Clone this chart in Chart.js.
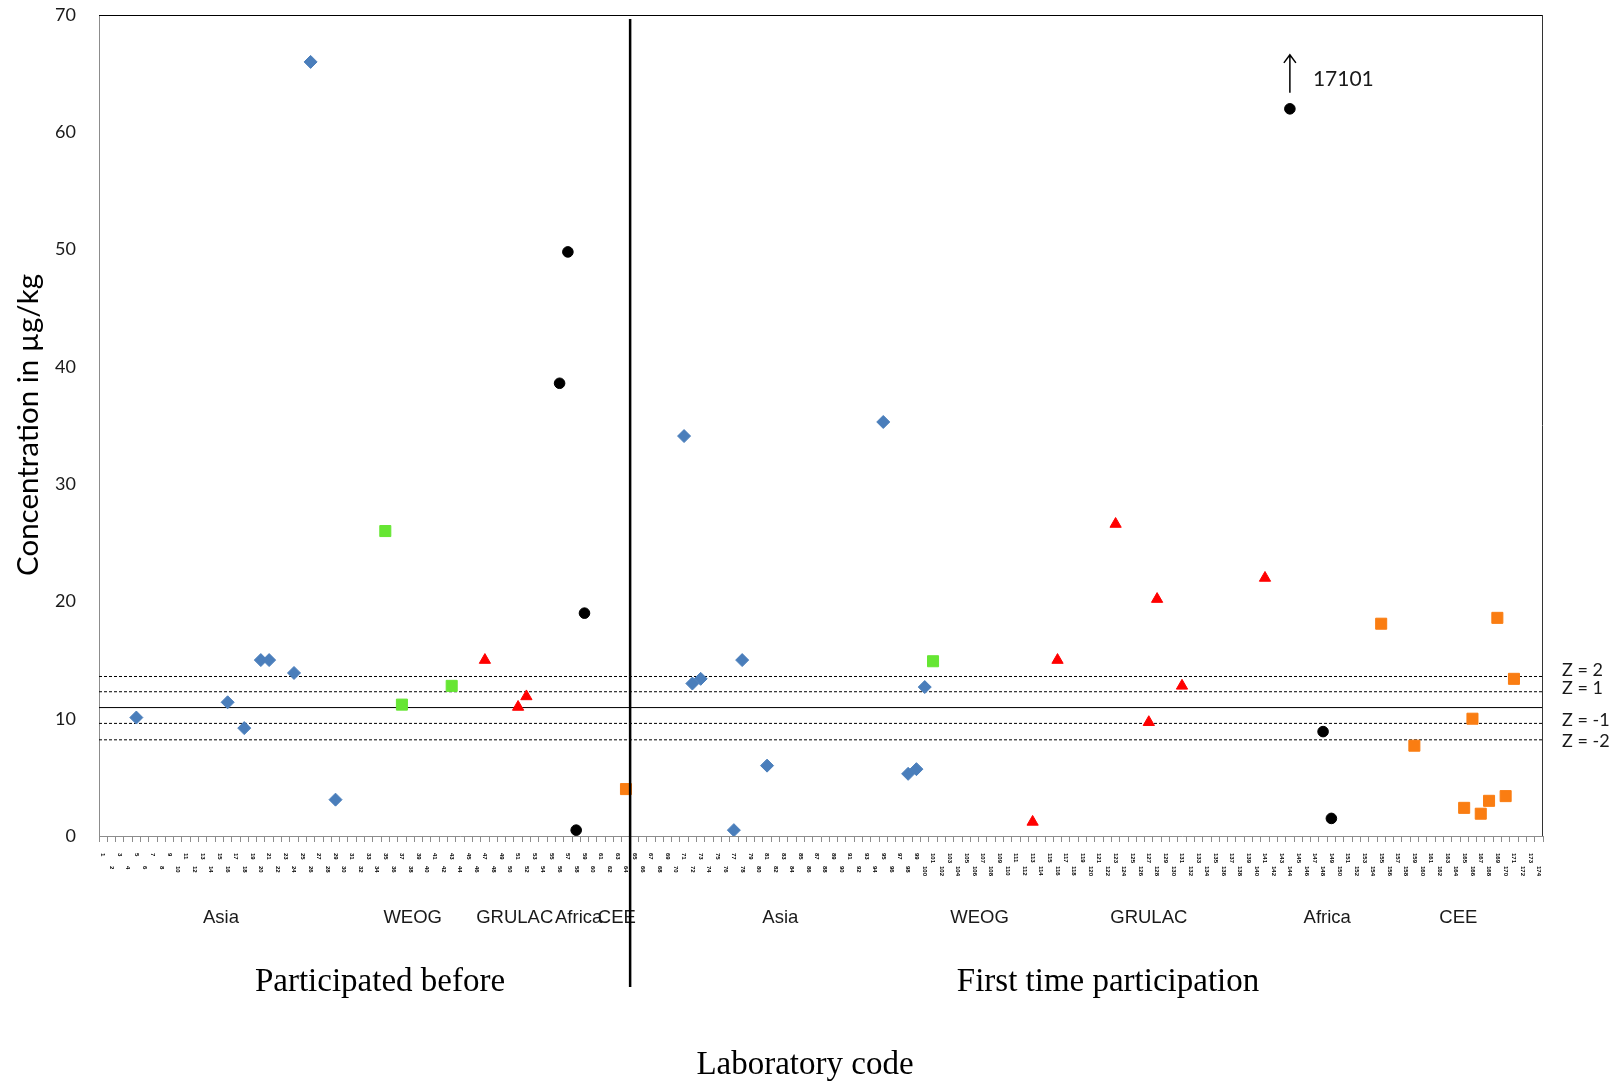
<!DOCTYPE html>
<html><head><meta charset="utf-8">
<script src="https://cdn.jsdelivr.net/npm/chart.js@4/dist/chart.umd.min.js"></script>
<style>html,body{margin:0;padding:0;background:#fff}canvas{display:block}</style>
</head><body>
<div style="width:1624px;height:1084px;position:relative"><canvas id="c" width="1624" height="1084"></canvas></div>
<script>
// ---------- DATA ----------
const categoryCount = 174;
const sectionBoundary = 64; // first 64 labs: participated before
const labCodes = ('1 2 3 4 5 6 7 8 9 10 11 12 13 14 15 16 17 18 19 20 21 22 23 24 25 26 27 28 29 30 31 32 33 34 35 36 37 38 39 40 41 42 43 44 45 46 47 48 49 50 51 52 53 54 55 56 57 58 59 60 61 62 63 64 65 66 67 68 69 70 71 72 73 74 75 76 77 78 79 80 81 82 83 84 85 86 87 88 89 90 91 92 93 94 95 96 97 98 99 100 101 102 103 104 105 106 107 108 109 110 111 112 113 114 115 116 117 118 119 120 121 122 123 124 125 126 127 128 129 130 131 132 133 134 135 136 137 138 139 140 141 142 143 144 145 146 147 148 149 150 151 152 153 154 155 156 157 158 159 160 161 162 163 164 165 166 167 168 169 170 171 172 173 174').split(' ');

const asiaIdx   = [4, 15, 17, 19, 20, 23, 25, 28, 70, 71, 72, 76, 77, 80, 94, 97, 98, 99];
const asiaVal   = [10.1, 11.4, 9.2, 15.0, 15.0, 13.9, 66.0, 3.1, 34.1, 13.0, 13.4, 0.5, 15.0, 6.0, 35.3, 5.3, 5.7, 12.7];
const weogIdx   = [34, 36, 42, 100];
const weogVal   = [26.0, 11.2, 12.8, 14.9];
const grulacIdx = [46, 50, 51, 112, 115, 122, 126, 127, 130, 140];
const grulacVal = [15.0, 11.0, 11.9, 1.2, 15.0, 26.6, 9.7, 20.2, 12.8, 22.0];
const africaIdx = [55, 56, 57, 58, 143, 147, 148];
const africaVal = [38.6, 49.8, 0.5, 19.0, 62.0, 8.9, 1.5]; // 143 is plotted off-scale (true value 17101)
const ceeIdx    = [63, 154, 158, 164, 165, 166, 167, 168, 169, 170];
const ceeVal    = [4.0, 18.1, 7.7, 2.4, 10.0, 1.9, 3.0, 18.6, 3.4, 13.4];

const outlierIdx = 143;
const outlierLabel = '17101';

const assignedValue = 10.95;
const zValues = [13.6, 12.3, 9.6, 8.2];
const zLabels = ['Z = 2', 'Z = 1', 'Z = -1', 'Z = -2'];

const regionNames   = ['Asia', 'WEOG', 'GRULAC', 'Africa', 'CEE', 'Asia', 'WEOG', 'GRULAC', 'Africa', 'CEE'];
const regionCenters = [14.7, 37.8, 50.1, 57.8, 62.4, 82.1, 106.1, 126.5, 148.0, 163.8];

const sectionTitles = ['Participated before', 'First time participation'];
const xTitle = 'Laboratory code';
const yTitle = 'Concentration in µg/kg';
const yMin = 0, yMax = 70, yStep = 10;

// ---------- BUILD ----------
const pts = (idx, val) => idx.map((i, k) => ({x: i + 0.5, y: val[k]}));
const hline = v => [{x: 0, y: v}, {x: categoryCount, y: v}];

function markerSet(label, data, shape, color, r) {
  return {label, data, showLine: false, pointStyle: shape, pointRadius: r, pointHoverRadius: r,
    backgroundColor: color, borderColor: color, borderWidth: 1};
}
function lineSet(label, v, dash) {
  return {label, data: hline(v), showLine: true, pointRadius: 0, borderColor: '#000', borderWidth: 1,
    borderDash: dash, fill: false};
}

const datasets = [
  markerSet('Asia', pts(asiaIdx, asiaVal), 'rectRot', '#4A7EBB', 6.5),
  markerSet('WEOG', pts(weogIdx, weogVal), 'rect', '#66E633', 7.8),
  markerSet('GRULAC', pts(grulacIdx, grulacVal), 'triangle', '#FF0000', 6.5),
  markerSet('Africa', pts(africaIdx, africaVal), 'circle', '#000000', 5.3),
  markerSet('CEE', pts(ceeIdx, ceeVal), 'rect', '#FA7D12', 7.8),
  lineSet('Assigned', assignedValue, []),
  ...zValues.map((v, i) => lineSet(zLabels[i], v, [3, 2]))
];

const zOffsets = [-6, -4, -3, 1];

const decor = {
  id: 'decor',
  afterDraw(chart) {
    const ctx = chart.ctx, xs = chart.scales.x, ys = chart.scales.y, a = chart.chartArea;
    ctx.save();
    // top and right frame
    ctx.strokeStyle = '#000'; ctx.lineWidth = 1;
    ctx.beginPath(); ctx.moveTo(a.left, a.top + 0.5); ctx.lineTo(a.right, a.top + 0.5); ctx.stroke();
    ctx.strokeStyle = '#333';
    ctx.beginPath(); ctx.moveTo(a.right - 0.5, a.top); ctx.lineTo(a.right - 0.5, a.bottom); ctx.stroke();

    // lab code tick labels (tiny, rotated, staggered)
    ctx.fillStyle = '#000';
    ctx.font = 'bold 6px "Liberation Sans"';
    ctx.textAlign = 'left'; ctx.textBaseline = 'middle';
    labCodes.forEach((code, i) => {
      const x = xs.getPixelForValue(i + 0.5);
      ctx.save();
      ctx.translate(x, a.bottom + (i % 2 ? 30 : 17));
      ctx.rotate(Math.PI / 2);
      ctx.fillText(code, 0, 0);
      ctx.restore();
    });

    // region labels
    ctx.fillStyle = '#1a1a1a';
    ctx.font = '18.5px "Liberation Sans"';
    ctx.textAlign = 'center'; ctx.textBaseline = 'middle';
    regionNames.forEach((n, i) => ctx.fillText(n, xs.getPixelForValue(regionCenters[i]), 918));

    // divider line
    const dx = xs.getPixelForValue(sectionBoundary);
    ctx.strokeStyle = '#000'; ctx.lineWidth = 2.5;
    ctx.beginPath(); ctx.moveTo(dx, a.top + 4); ctx.lineTo(dx, 987); ctx.stroke();

    // section titles & x title
    ctx.fillStyle = '#000';
    ctx.font = '33px "Liberation Serif"';
    ctx.fillText(sectionTitles[0], 380, 982);
    ctx.fillText(sectionTitles[1], 1108, 982);
    ctx.fillText(xTitle, 805, 1065);

    // y title
    ctx.save();
    ctx.translate(28, 425);
    ctx.rotate(-Math.PI / 2);
    ctx.font = '29.5px Lato';
    ctx.fillText(yTitle, 0, 0);
    ctx.restore();

    // Z labels
    ctx.font = '18px Lato';
    ctx.textAlign = 'left';
    ctx.fillStyle = '#1a1a1a';
    zValues.forEach((v, i) => ctx.fillText(zLabels[i], 1562, ys.getPixelForValue(v) + zOffsets[i]));

    // outlier arrow
    const ox = xs.getPixelForValue(outlierIdx + 0.5);
    const oy = ys.getPixelForValue(africaVal[africaIdx.indexOf(outlierIdx)]);
    ctx.strokeStyle = '#000'; ctx.lineWidth = 1.5;
    ctx.beginPath();
    ctx.moveTo(ox, oy - 16); ctx.lineTo(ox, oy - 54);
    ctx.moveTo(ox - 6, oy - 46); ctx.lineTo(ox, oy - 54); ctx.lineTo(ox + 6, oy - 46);
    ctx.stroke();
    ctx.font = '21px Lato';
    ctx.fillStyle = '#1a1a1a';
    ctx.fillText(outlierLabel, ox + 23, oy - 30);
    ctx.restore();
  }
};

new Chart(document.getElementById('c'), {
  type: 'scatter',
  data: {datasets},
  options: {
    responsive: false,
    animation: false,
    layout: {padding: {top: 15, right: 81, left: 0, bottom: 0}},
    plugins: {legend: {display: false}, tooltip: {enabled: false}},
    scales: {
      x: {
        type: 'linear', min: 0, max: categoryCount,
        ticks: {display: false, stepSize: 1},
        grid: {display: true, drawOnChartArea: false, drawTicks: true, tickLength: 6, color: '#8c8c8c'},
        border: {display: true, color: '#8c8c8c', width: 1},
        afterFit(s) { s.height = 248; s.paddingLeft = 0; s.paddingRight = 0; }
      },
      y: {
        type: 'linear', min: yMin, max: yMax,
        ticks: {stepSize: yStep, padding: 23, color: '#1a1a1a', font: {family: 'Lato', size: 18}},
        grid: {display: false, drawTicks: false},
        border: {display: true, color: '#8c8c8c', width: 1},
        afterFit(s) { s.width = 99; s.paddingTop = 0; s.paddingBottom = 0; }
      }
    }
  },
  plugins: [decor]
});
</script>
</body></html>
